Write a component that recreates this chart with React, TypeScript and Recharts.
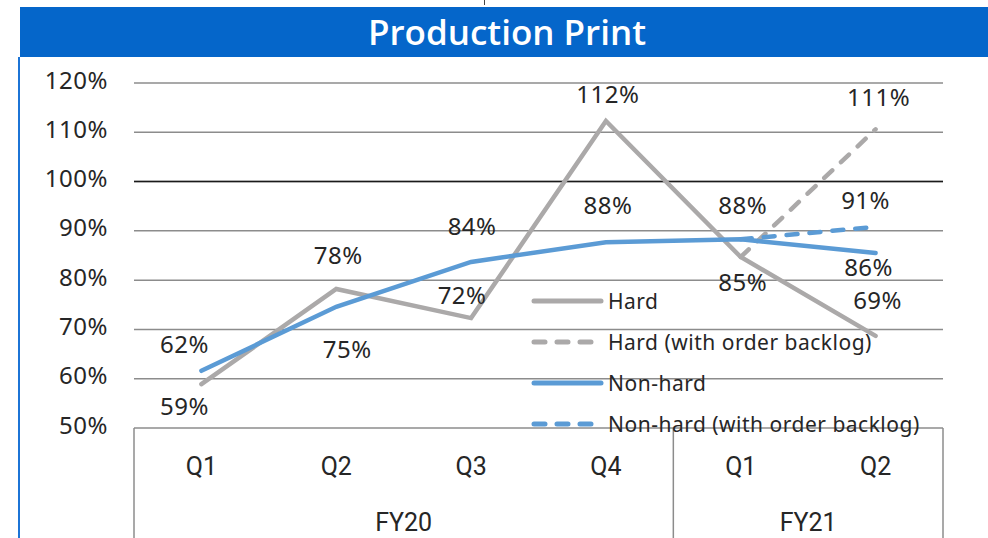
import React from 'react';
import { LineChart, Line, XAxis, YAxis, CartesianGrid, ReferenceLine, Legend } from 'recharts';

// ---------- data ----------
const quarters = ['Q1', 'Q2', 'Q3', 'Q4', 'Q1', 'Q2'];
const fiscalYears = ['FY20', 'FY20', 'FY20', 'FY20', 'FY21', 'FY21'];
const hard = [58.9, 78.2, 72.3, 112.3, 84.7, 68.7];
const hardBacklog: (number | null)[] = [null, null, null, null, 84.7, 110.6];
const nonHard = [61.6, 74.6, 83.7, 87.7, 88.3, 85.5];
const nonHardBacklog: (number | null)[] = [null, null, null, null, 88.3, 90.8];
const yTicks = [50, 60, 70, 80, 90, 100, 110, 120];
const seriesNames = ['Hard', 'Hard (with order backlog)', 'Non-hard', 'Non-hard (with order backlog)'];

// ---------- style ----------
const W = 988;
const H = 538;
const PLOT_LEFT = 134;
const PLOT_RIGHT = 943;
const PLOT_TOP = 83;
const PLOT_BOTTOM = 428;
const PLOT_W = PLOT_RIGHT - PLOT_LEFT;
const STEP = PLOT_W / quarters.length;

const GRAY = '#ABA9A9';
const BLUE = '#5B9BD5';
const TEXT = '#262626';
const NUM_FONT = "'Noto Sans', 'Open Sans', sans-serif";
const NARROW_FONT = "'Liberation Sans Narrow', 'Roboto', sans-serif";

// label offsets [dx, dy] per point (style only)
const hardLabelOffsets = [[-17, 21], [2, -35], [-9, -24], [2, -27], [2, 25], [2, -36]];
const nonHardLabelOffsets = [[-17, -27], [11, 42], [1, -36], [2, -38], [2, -35], [-7, 13]];
const hardBacklogLabelOffsets = [null, null, null, null, null, [3, -33]];
const nonHardBacklogLabelOffsets = [null, null, null, null, null, [-10, -27]];

const data = quarters.map((q, i) => ({
  key: `${fiscalYears[i]}-${q}`,
  q,
  fy: fiscalYears[i],
  hard: hard[i],
  hardBacklog: hardBacklog[i],
  nonHard: nonHard[i],
  nonHardBacklog: nonHardBacklog[i],
}));

const makeLabel = (offsets: (number[] | null)[]) => (props: any) => {
  const { x, y, value, index } = props;
  const off = offsets[index];
  if (!off || value == null || x == null || y == null || isNaN(x) || isNaN(y)) return null;
  return (
    <text
      x={x + off[0]}
      y={y + off[1]}
      textAnchor="middle"
      dominantBaseline="central"
      fontFamily={NUM_FONT}
      fontSize={24}
      letterSpacing={0.5}
      fill={TEXT}
    >
      {`${Math.round(value)}%`}
    </text>
  );
};

const YTick = (props: any) => {
  const { x, y, payload } = props;
  return (
    <text x={x} y={y - 4} textAnchor="end" dominantBaseline="central" fontFamily={NUM_FONT} fontSize={24} letterSpacing={0.5} fill={TEXT}>
      {`${payload.value}%`}
    </text>
  );
};

const XTick = (props: any) => {
  const { x, y, index } = props;
  const elems: React.ReactNode[] = [];
  const bottom = H - y;
  elems.push(
    <text key="q" x={x} y={y + 38} textAnchor="middle" dominantBaseline="central" fontFamily={NARROW_FONT} fontSize={25} fill={TEXT}>
      {quarters[index]}
    </text>
  );
  const isGroupStart = index === 0 || fiscalYears[index] !== fiscalYears[index - 1];
  if (isGroupStart) {
    elems.push(<line key="sep" x1={x - STEP / 2} x2={x - STEP / 2} y1={y} y2={y + bottom} stroke="#8c8c8c" strokeWidth={1.5} />);
    let count = 0;
    while (index + count < fiscalYears.length && fiscalYears[index + count] === fiscalYears[index]) count++;
    const cx = x + ((count - 1) * STEP) / 2;
    elems.push(
      <text key="fy" x={cx} y={y + 94} textAnchor="middle" dominantBaseline="central" fontFamily={NARROW_FONT} fontSize={25} fill={TEXT}>
        {fiscalYears[index]}
      </text>
    );
  }
  if (index === quarters.length - 1) {
    elems.push(<line key="end" x1={x + STEP / 2} x2={x + STEP / 2} y1={y} y2={y + bottom} stroke="#8c8c8c" strokeWidth={1.5} />);
  }
  return <g>{elems}</g>;
};

const legendStyles = [
  { color: GRAY, dash: undefined },
  { color: GRAY, dash: '11 12' },
  { color: BLUE, dash: undefined },
  { color: BLUE, dash: '11 12' },
];

const LegendContent = () => (
  <div style={{ fontFamily: NUM_FONT, fontSize: 21, letterSpacing: 0.5, color: TEXT }}>
    {seriesNames.map((name, i) => (
      <div key={name} style={{ display: 'flex', alignItems: 'center', height: 41, whiteSpace: 'nowrap' }}>
        <svg width={77} height={12} style={{ display: 'block' }}>
          <line
            x1={3}
            x2={70}
            y1={6}
            y2={6}
            stroke={legendStyles[i].color}
            strokeWidth={5}
            strokeLinecap="round"
            strokeDasharray={legendStyles[i].dash}
          />
        </svg>
        <span style={{ lineHeight: '24px' }}>{name}</span>
      </div>
    ))}
  </div>
);

export default function App() {
  return (
    <div style={{ position: 'absolute', left: 0, top: 0, width: W, height: H, background: '#fff', overflow: 'hidden' }}>
      <div style={{ position: 'absolute', left: 484, top: 0, width: 1, height: 5, background: '#444' }} />
      <div
        style={{
          position: 'absolute',
          left: 20,
          top: 7,
          width: W - 20,
          height: 50,
          background: '#0566CA',
          color: '#fff',
          fontFamily: "'Open Sans', sans-serif",
          fontWeight: 600,
          fontSize: 35,
          display: 'flex',
          alignItems: 'center',
          justifyContent: 'center',
          boxSizing: 'border-box',
        }}
      >
        <span style={{ position: 'relative', left: 3, top: -1 }}>Production Print</span>
      </div>
      <div style={{ position: 'absolute', left: 18, top: 57, width: 2, height: H - 57, background: '#1C74D6' }} />
      <div style={{ position: 'absolute', left: 0, top: 0 }}>
        <LineChart
          width={W}
          height={H}
          data={data}
          margin={{ top: PLOT_TOP, right: W - PLOT_RIGHT, bottom: 0, left: 0 }}
        >
          <CartesianGrid vertical={false} stroke="#8c8c8c" strokeWidth={1.5} />
          <ReferenceLine y={100} stroke="#1a1a1a" strokeWidth={1.5} />
          <XAxis
            dataKey="key"
            type="category"
            height={H - PLOT_BOTTOM}
            interval={0}
            axisLine={false}
            tickLine={false}
            tickSize={0}
            tickMargin={0}
            padding={{ left: STEP / 2, right: STEP / 2 }}
            tick={<XTick />}
          />
          <YAxis
            type="number"
            domain={[50, 120]}
            ticks={yTicks}
            width={PLOT_LEFT}
            axisLine={false}
            tickLine={false}
            tickSize={0}
            tickMargin={26}
            tick={<YTick />}
            interval={0}
          />
          <Legend
            layout="vertical"
            align="center"
            verticalAlign="middle"
            wrapperStyle={{ left: 531, top: 280, width: 450 }}
            content={<LegendContent />}
          />
          <Line
            dataKey="hard"
            name={seriesNames[0]}
            stroke={GRAY}
            strokeWidth={4.5}
            strokeLinecap="round"
            dot={false}
            activeDot={false}
            isAnimationActive={false}
            label={makeLabel(hardLabelOffsets)}
          />
          <Line
            dataKey="hardBacklog"
            name={seriesNames[1]}
            stroke={GRAY}
            strokeWidth={4.5}
            strokeDasharray="11 12"
            strokeLinecap="round"
            dot={false}
            activeDot={false}
            connectNulls={false}
            isAnimationActive={false}
            label={makeLabel(hardBacklogLabelOffsets)}
          />
          <Line
            dataKey="nonHard"
            name={seriesNames[2]}
            stroke={BLUE}
            strokeWidth={4.5}
            strokeLinecap="round"
            dot={false}
            activeDot={false}
            isAnimationActive={false}
            label={makeLabel(nonHardLabelOffsets)}
          />
          <Line
            dataKey="nonHardBacklog"
            name={seriesNames[3]}
            stroke={BLUE}
            strokeWidth={4.5}
            strokeDasharray="11 12"
            strokeLinecap="round"
            dot={false}
            activeDot={false}
            connectNulls={false}
            isAnimationActive={false}
            label={makeLabel(nonHardBacklogLabelOffsets)}
          />
        </LineChart>
      </div>
    </div>
  );
}
